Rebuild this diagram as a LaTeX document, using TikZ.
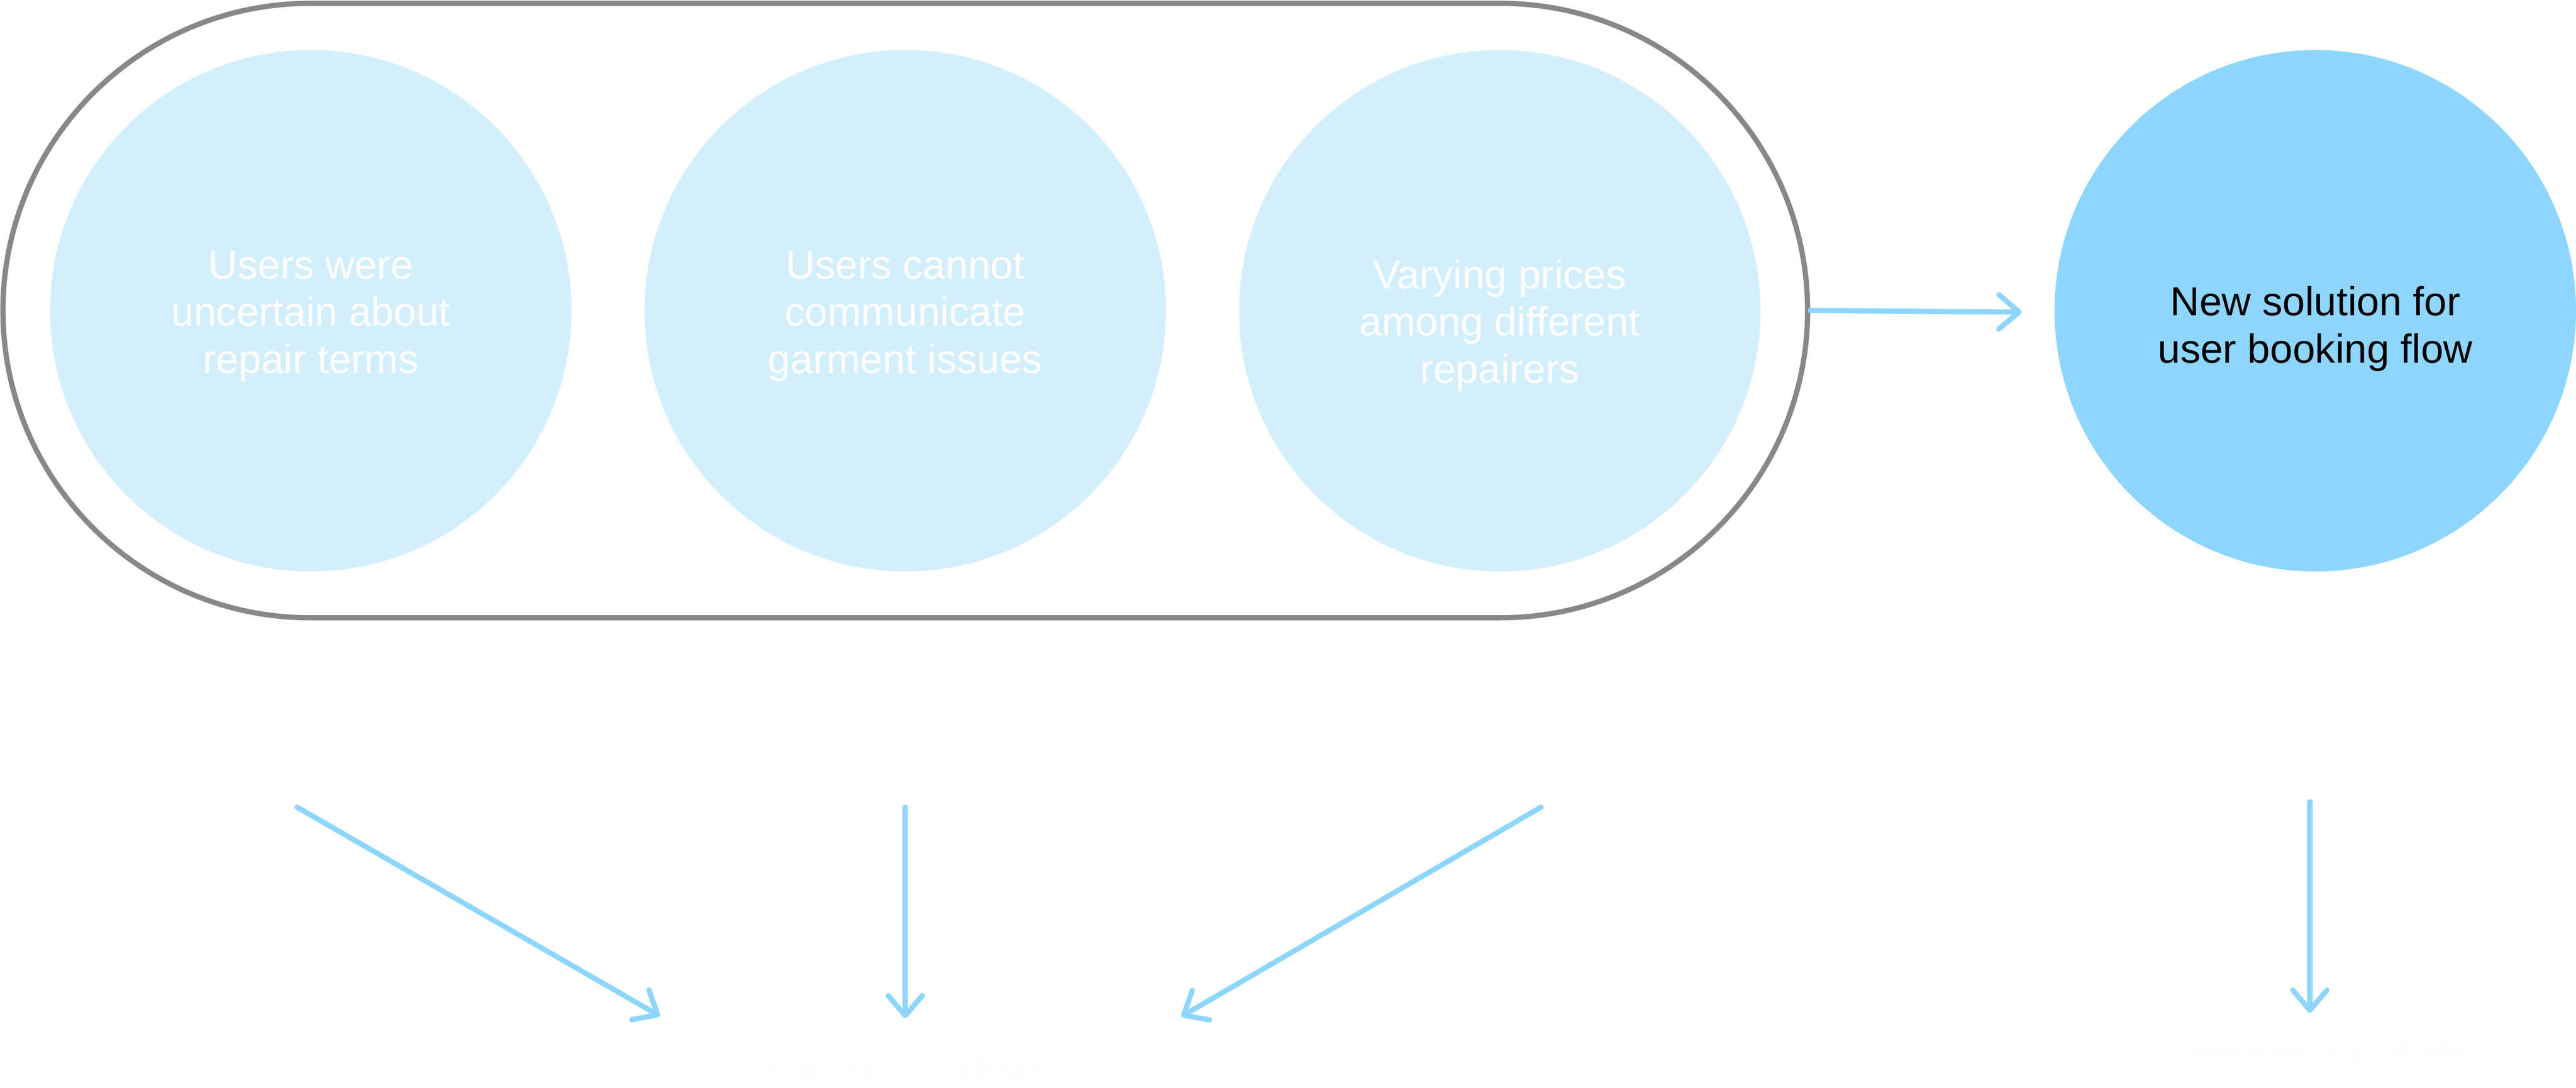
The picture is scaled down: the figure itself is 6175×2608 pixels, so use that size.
\documentclass[tikz,border=0pt]{standalone}
\usepackage{fontspec}
\setmainfont{Liberation Sans}
\usetikzlibrary{arrows.meta, positioning, shapes.misc}

\definecolor{softblue}{HTML}{D3EFFD}
\definecolor{skyblue}{HTML}{8ED6FE}
\definecolor{rimgray}{HTML}{888888}
\definecolor{faintwhite}{HTML}{FDFEFF}

\begin{document}
\begin{tikzpicture}[x=0.1mm, y=-0.1mm, line cap=round, line join=round]
	
	%======================
	% PARAMETERS (pixels, y downwards)
	%======================
	\def\cy{745}         % row of the circles
	\def\ty{758}         % centre of the three-line texts
	
	% Styles
	\tikzset{
		problem/.style={circle, fill=softblue, minimum size=125mm, inner sep=0pt},
		solution/.style={circle, fill=skyblue, minimum size=125mm, inner sep=0pt},
		group/.style={rounded rectangle, draw=rimgray, line width=1.25mm,
			minimum width=432.6mm, minimum height=147.3mm, inner sep=0pt},
		flow/.style={draw=skyblue, line width=1.25mm,
			-{Straight Barb[length=4.8mm, width=8.2mm, round]}},
		circtext/.style={align=center, inner sep=0pt,
			font=\fontsize{27.6pt}{32.15pt}\selectfont},
		result/.style={anchor=base, inner sep=0pt, text=faintwhite,
			font=\fontsize{19.2pt}{23pt}\selectfont}
	}
	
	\useasboundingbox (0,0) rectangle (6175,2608);
	
	%======================
	% PROBLEMS (grouped in a pill)
	%======================
	\node[group] (grp) at (2170,744.5) {};
	
	\node[problem] (p1) at (745,\cy) {};
	\node[problem] (p2) at (2170,\cy) {};
	\node[problem] (p3) at (3595,\cy) {};
	
	\node[circtext, text=white] (t1) at (745,\ty) {Users were\\uncertain about\\repair terms};
	\node[circtext, text=white] (t2) at (2170,\ty) {Users cannot\\communicate\\garment issues};
	\node[circtext, text=white] (t3) at (3595,780) {Varying prices\\among different\\repairers};
	
	%======================
	% SOLUTION
	%======================
	\node[solution] (s1) at (5550,\cy) {};
	\node[circtext, text=black] (ts) at (5550,788) {New solution for\\user booking flow};
	
	\coordinate (tipR) at (4846,748);
	\draw[flow] (grp.east) -- (tipR);
	
	%======================
	% OUTCOMES (white text)
	%======================
	\node[result] (high) at (2173,2588) {High user drop off rate};
	\node[result] (low)  at (5552,2543) {Lower user drop off rate};
	
	% arrows towards the outcomes
	\coordinate (a1s) at (712,1935);
	\coordinate (a1e) at (1582,2436);
	\coordinate (a2s) at (2170,1935);
	\coordinate (a2e) at (2170,2441);
	\coordinate (a3s) at (3694,1935);
	\coordinate (a3e) at (2832,2437);
	\coordinate (a4s) at (5537,1922);
	\coordinate (a4e) at (5537,2428);
	
	\foreach \s/\e in {a1s/a1e, a2s/a2e, a3s/a3e, a4s/a4e}
		\draw[flow] (\s) -- (\e);
\end{tikzpicture}
\end{document}
